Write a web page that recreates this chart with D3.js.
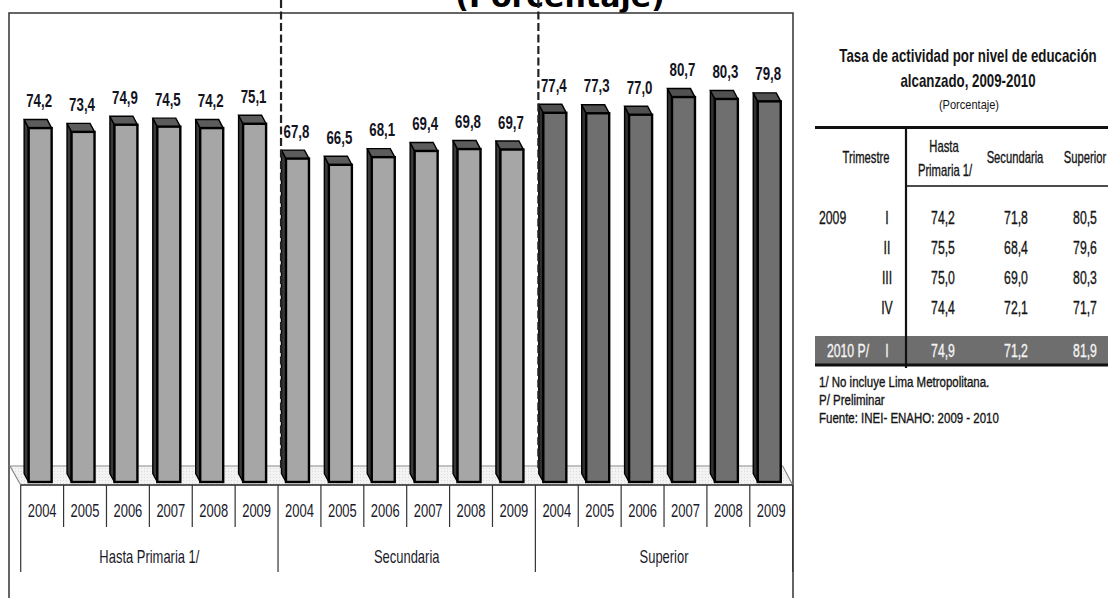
<!DOCTYPE html>
<html>
<head>
<meta charset="utf-8">
<style>
  body { margin: 0; background: #fff; }
  svg { display: block; }
</style>
</head>
<body>
<script src="https://d3js.org/d3.v7.min.js"></script>
<svg width="1108" height="598"></svg>
<script>
// chart data
const years = ["2004", "2005", "2006", "2007", "2008", "2009"];
const groups = ["Hasta Primaria 1/", "Secundaria", "Superior"];
const hastaPrimaria = [74.2, 73.4, 74.9, 74.5, 74.2, 75.1];
const secundaria = [67.8, 66.5, 68.1, 69.4, 69.8, 69.7];
const superior = [77.4, 77.3, 77.0, 80.7, 80.3, 79.8];

// table data
const tableTitle = ["Tasa de actividad por nivel de educación", "alcanzado, 2009-2010"];
const tableYears = ["2009", "", "", "", "2010 P/"];
const tableQuarters = ["I", "II", "III", "IV", "I"];
const tablePrimaria = [74.2, 75.5, 75.0, 74.4, 74.9];
const tableSecundaria = [71.8, 68.4, 69.0, 72.1, 71.2];
const tableSuperior = [80.5, 79.6, 80.3, 71.7, 81.9];
const tableNotes = ["1/  No incluye Lima Metropolitana.", "P/ Preliminar", "Fuente: INEI- ENAHO:  2009 - 2010"];

const svg = d3.select("svg");
const font = "'Liberation Sans', Arial, sans-serif";
const fmt = v => d3.format(".1f")(v).replace(".", ",");

// narrow text helper (condensed look)
function ntext(g, str, x, y, o) {
    o = o || {};
    const t = g.append("text")
        .attr("transform", `translate(${x},${y}) scale(${o.sx || 0.74},1)`)
        .attr("text-anchor", o.anchor || "middle")
        .style("font-family", font)
        .style("font-size", (o.size || 17) + "px")
        .style("font-weight", o.bold ? "bold" : "normal")
        .style("fill", o.fill || "#151515")
        .text(str);
    if (o.heavy) t.style("stroke", o.fill || "#151515").style("stroke-width", 0.35);
    return t;
}

const seriesByGroup = [hastaPrimaria, secundaria, superior];
const cells = [];
groups.forEach((g, gi) => years.forEach((yr, i) => {
    cells.push({ group: g, gi: gi, year: yr, value: seriesByGroup[gi][i], key: g + "|" + yr });
}));

const x = d3.scaleBand().domain(cells.map(d => d.key)).range([20.7, 792.7]);
const y = d3.scaleLinear().domain([0, 100]).range([482, 5]);
const bw = x.bandwidth();

// title (cut off at top, as in the original)
svg.append("text")
    .attr("x", 560).attr("y", 7)
    .attr("text-anchor", "middle")
    .style("font-family", "'DejaVu Sans', Verdana, sans-serif")
    .style("font-weight", "bold")
    .style("font-size", "30px")
    .text("(Porcentaje)");

// frame
svg.append("path")
    .attr("d", "M9,598 V13 H793 V598")
    .style("fill", "none").style("stroke", "#333").style("stroke-width", 1.5);

// floor
const defs = svg.append("defs");
const pat = defs.append("pattern").attr("id", "dots")
    .attr("width", 3).attr("height", 3).attr("patternUnits", "userSpaceOnUse");
pat.append("rect").attr("width", 3).attr("height", 3).attr("fill", "#f3f3f3");
pat.append("rect").attr("width", 1).attr("height", 1).attr("fill", "#dadada");

const x0 = x.range()[0], x1 = x.range()[1];
svg.append("path")
    .attr("d", `M${x0 - 10.7},466 H${x1 - 10} L${x1},485 H${x0} Z`)
    .style("fill", "url(#dots)").style("stroke", "none");
svg.append("path")
    .attr("d", `M${x0},485 L${x0 - 10.7},466 H${x1 - 10} L${x1},485`)
    .style("fill", "none").style("stroke", "#8a8a8a").style("stroke-width", 1.2);

// bars (3D look)
const dx = 4.5, dy = 8.5, fw = 23;
const colors = [
    { front: "#a6a6a6", top: "#5c5c5c", side: "#3a3a3a" },
    { front: "#a6a6a6", top: "#5c5c5c", side: "#3a3a3a" },
    { front: "#6f6f6f", top: "#505050", side: "#303030" }
];

const bars = svg.selectAll("g.bar").data(cells).enter().append("g").attr("class", "bar");
bars.each(function(d) {
    const g = d3.select(this);
    const cx = x(d.key) + bw / 2 - 2;
    const l = cx - fw / 2, r = cx + fw / 2;
    const t = y(d.value), b = y(0);
    const c = colors[d.gi];
    g.append("path")
        .attr("d", `M${l},${t} L${l - dx},${t - dy} L${l - dx},${b - dy} L${l},${b} Z`)
        .style("fill", c.side).style("stroke", "#000").style("stroke-width", 1.4);
    g.append("path")
        .attr("d", `M${l},${t} L${r},${t} L${r - dx},${t - dy} L${l - dx},${t - dy} Z`)
        .style("fill", c.top).style("stroke", "#000").style("stroke-width", 1.4);
    g.append("rect")
        .attr("x", l).attr("y", t).attr("width", fw).attr("height", b - t)
        .style("fill", c.front).style("stroke", "#000").style("stroke-width", 2.4);
    ntext(g, fmt(d.value), cx - 1, t - 21, { size: 19, bold: true, sx: 0.70, fill: "#14141f" });
});

// dashed separators between groups
groups.slice(1).forEach(g => {
    const xx = x(g + "|" + years[0]) + 3;
    svg.append("line")
        .attr("x1", xx).attr("x2", xx).attr("y1", 0).attr("y2", 470)
        .style("stroke", "#222").style("stroke-width", 2.2)
        .style("stroke-dasharray", "8,3.5");
});

// category axis
const axis = svg.append("g");
axis.append("line").attr("x1", x0).attr("x2", x1).attr("y1", 485).attr("y2", 485)
    .style("stroke", "#222").style("stroke-width", 1.3);
cells.forEach((d, i) => {
    const xx = x(d.key);
    const isGroupStart = i % years.length === 0;
    axis.append("line").attr("x1", xx).attr("x2", xx).attr("y1", 485).attr("y2", isGroupStart ? 572 : 527)
        .style("stroke", "#333").style("stroke-width", 1.2);
    ntext(axis, d.year, xx + bw / 2, 517, { size: 18, sx: 0.72, fill: "#1a1a2a" });
});
axis.append("line").attr("x1", x1).attr("x2", x1).attr("y1", 485).attr("y2", 572)
    .style("stroke", "#333").style("stroke-width", 1.2);
groups.forEach(g => {
    const a = x(g + "|" + years[0]);
    const b = x(g + "|" + years[years.length - 1]) + bw;
    ntext(axis, g, (a + b) / 2, 563, { size: 18, sx: 0.72, fill: "#1a1a2a" });
});

// side table
const tb = svg.append("g");
ntext(tb, tableTitle[0], 968, 62, { size: 19, bold: true, sx: 0.70 });
ntext(tb, tableTitle[1], 968, 87, { size: 19, bold: true, sx: 0.70 });
ntext(tb, "(Porcentaje)", 969, 109, { size: 13, sx: 0.85 });

tb.append("line").attr("x1", 815).attr("x2", 1108).attr("y1", 127.5).attr("y2", 127.5)
    .style("stroke", "#111").style("stroke-width", 3);
tb.append("line").attr("x1", 906).attr("x2", 1108).attr("y1", 186).attr("y2", 186)
    .style("stroke", "#111").style("stroke-width", 1.6);

const colX = [943, 1016, 1085];
const hdr = { size: 17, sx: 0.66, heavy: true };
ntext(tb, "Trimestre", 866, 163, hdr);
ntext(tb, "Hasta", 944, 152, hdr);
ntext(tb, "Primaria 1/", 945, 176, hdr);
ntext(tb, "Secundaria", colX[1] - 1, 163, hdr);
ntext(tb, "Superior", colX[2], 163, hdr);

const rowY = i => i < 4 ? 217 + i * 30 : 350;
// shaded last row
tb.append("rect").attr("x", 815).attr("y", 336).attr("width", 293).attr("height", 28)
    .style("fill", "#6e6e6e");
tb.append("line").attr("x1", 815).attr("x2", 1108).attr("y1", 365).attr("y2", 365)
    .style("stroke", "#111").style("stroke-width", 3);
tb.append("line").attr("x1", 906).attr("x2", 906).attr("y1", 128).attr("y2", 368)
    .style("stroke", "#111").style("stroke-width", 2.2);

tableQuarters.forEach((q, i) => {
    const last = i === tableQuarters.length - 1;
    const fill = last ? "#f4f4f4" : "#151515";
    const by = rowY(i) + 6.5;
    const o = { size: 18, sx: 0.68, fill: fill, heavy: true };
    if (tableYears[i]) {
        if (last) ntext(tb, tableYears[i], 848, by, o);
        else ntext(tb, tableYears[i], 819, by, Object.assign({}, o, { anchor: "start" }));
    }
    ntext(tb, q, 887, by, o);
    [tablePrimaria, tableSecundaria, tableSuperior].forEach((arr, j) => {
        ntext(tb, fmt(arr[i]), colX[j], by, o);
    });
});

tableNotes.forEach((n, i) => {
    ntext(tb, n, 819, 387 + i * 18, { size: 14, sx: 0.82, anchor: "start", heavy: true });
});
</script>
</body>
</html>
